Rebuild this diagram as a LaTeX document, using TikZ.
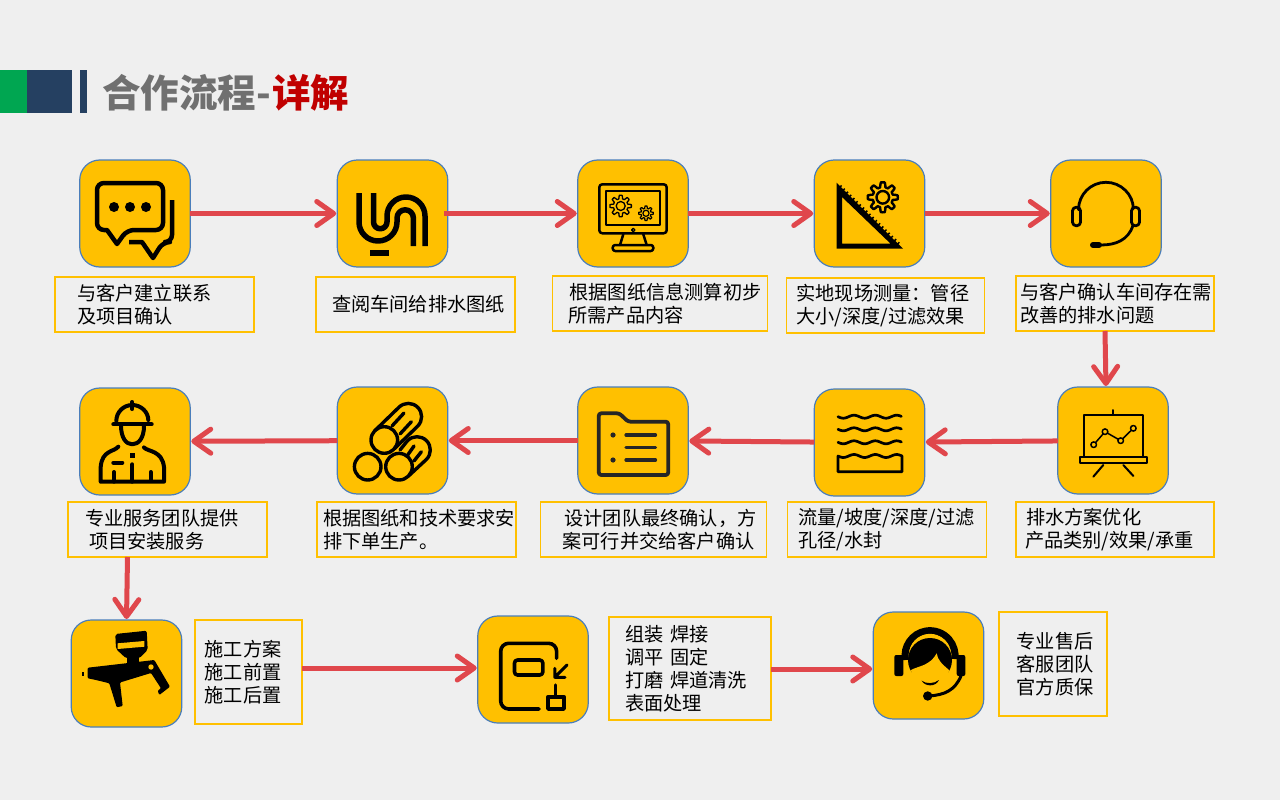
\documentclass[tikz,border=0pt]{standalone}
\usepackage{fontspec}
\setmainfont{Noto Sans CJK SC}
\usepackage{tikz}
\usetikzlibrary{
        arrows.meta,
        positioning
    }
\definecolor{pagegray}{HTML}{EFEFEF}
\definecolor{gold}{HTML}{FFC000}
\definecolor{bluerim}{HTML}{4A7EBB}
\definecolor{flowred}{HTML}{E0474C}
\definecolor{navy}{HTML}{254061}
\definecolor{leafgreen}{HTML}{00A651}
\definecolor{titlegray}{HTML}{707070}
\definecolor{titlered}{HTML}{C00000}
\tikzset{>={Straight Barb[round,length=17pt,width=24pt]},shorten >=1pt}
\tikzset{
    iconbox/.style={draw=bluerim,fill=gold,line width=1.2pt,rounded corners=20pt,
        minimum width=110.5pt,minimum height=107pt,outer sep=0pt,inner sep=0pt},
    textbox/.style={draw=gold,line width=1.6pt,text width=#1,minimum height=55pt,
        inner sep=0pt,outer sep=0pt,align=left,font=\fontsize{19.2}{23}\selectfont},
    flow/.style={line width=5pt,color=flowred},
    glyph/.style={draw=black,line width=#1,line cap=round,line join=round},
    glyph/.default=3pt
}
\newcommand{\ind}[1]{\hspace*{#1pt}}
\newcommand{\gearglyph}[4]{
    \draw[glyph=#4,shift={(#1,#2)}] plot[domain=0:360,samples=97] (\x:{#3*(0.84+0.16*sign(cos(8*\x)))}) -- cycle;
    \draw[glyph=#4] (#1,#2) circle ({0.42*#3});
}
\newcommand{\waveglyph}[1]{
    \draw[glyph=2.7pt] plot[domain=0:1,samples=46,smooth] ({838+64*\x},{#1+1.5*sin(1080*\x)});
}

\begin{document}
\begin{tikzpicture}[x=1pt,y=-1pt]
                    \useasboundingbox (0,0) rectangle (1280,800);
                    \fill[pagegray] (0,0) rectangle (1280,800);
                    \fill[leafgreen] (0,70) rectangle (27,113);
                    \fill[navy] (27,70) rectangle (72,113);
                    \fill[navy] (80,70) rectangle (87,113);
                    \node[anchor=west,inner sep=0pt,text=titlegray,font=\fontsize{38.5}{40}\selectfont\bfseries] (title) at (102,93) {合作流程-\hspace{1.5pt}\textcolor{titlered}{详解}};

                    \node[iconbox] (s1) at (135,213.5) {};
                    \node[iconbox] (s2) [right=147pt of s1] {};
                    \node[iconbox] (s3) [right=130pt of s2] {};
                    \node[iconbox] (s4) [right=126pt of s3] {};
                    \node[iconbox] (s5) [right=126pt of s4] {};
                    \node[textbox=199pt] (t1) [below=10pt of s1,xshift=19.5pt] {\ind{22}与客户建立联系\\\ind{22}及项目确认};
                    \node[textbox=199pt] (t2) [below=10pt of s2,xshift=23pt] {\ind{16}查阅车间给排水图纸};
                    \node[textbox=215pt] (t3) [below=9pt of s3,xshift=27pt] {\ind{17}根据图纸信息测算初步\\\ind{16}所需产品内容};
                    \node[textbox=198pt] (t4) [below=11pt of s4,xshift=16pt] {\ind{10}实地现场测量：管径\\\ind{10}大小/深度/过滤效果};
                    \node[textbox=198pt] (t5) [below=9pt of s5,xshift=9pt] {\ind{4}与客户确认车间存在需\\\ind{4}改善的排水问题};

                    \node[iconbox] (s6) [below=56pt of t5,xshift=-2pt] {};
                    \node[iconbox] (s7) [left=133pt of s6,yshift=-2pt] {};
                    \node[iconbox] (s8) [left=126pt of s7,yshift=2pt] {};
                    \node[iconbox] (s9) [left=130pt of s8] {};
                    \node[iconbox] (s10) [left=147pt of s9,yshift=-1pt] {};
                    \node[textbox=198pt] (t6) [below=8pt of s6,xshift=2pt] {\ind{10}排水方案优化\\\ind{9}产品类别/效果/承重};
                    \node[textbox=199pt] (t7) [below=6pt of s7,xshift=17.5pt] {\ind{11}流量/坡度/深度/过滤\\\ind{11}孔径/水封};
                    \node[textbox=226pt] (t8) [below=8pt of s8,xshift=20.5pt] {\ind{24}设计团队最终确认，方\\\ind{22}案可行并交给客户确认};
                    \node[textbox=199pt] (t9) [below=8pt of s9,xshift=24pt] {\ind{6}根据图纸和技术要求安\\\ind{6}排下单生产。};
                    \node[textbox=199pt] (t10) [below=7pt of s10,xshift=32.5pt] {\ind{17}专业服务团队提供\\\ind{21}项目安装服务};

                    \node[iconbox] (s11) [below=63pt of t10,xshift=-41pt] {};
                    \node[textbox=107pt,minimum height=104pt] (t11) [right=13pt of s11,yshift=1.5pt] {\ind{10}施工方案\\\ind{10}施工前置\\\ind{10}施工后置};
                    \node[iconbox] (s12) [right=176pt of t11,yshift=2.5pt] {};
                    \node[textbox=162pt,minimum height=103pt] (t12) [right=21pt of s12,yshift=1pt] {\ind{16}组装~焊接\\\ind{16}调平~固定\\\ind{16}打磨~焊道清洗\\\ind{16}表面处理};
                    \node[iconbox] (s13) [right=102pt of t12,yshift=3pt] {};
                    \node[textbox=108pt,minimum height=104pt] (t13) [right=15pt of s13,yshift=1.5pt] {\ind{18}专业售后\\\ind{18}客服团队\\\ind{18}官方质保};

                    \path[->,flow]
                        (s1)  edge (s2)
                        ([xshift=-4pt]s2.east)  edge (s3)
                        (s3)  edge (s4)
                        (s4)  edge (s5)
                        ([xshift=-10pt]t5.south)  edge ([xshift=-7pt]s6.north)
                        (s6)  edge (s7)
                        (s7)  edge (s8)
                        (s8)  edge (s9)
                        (s9)  edge (s10)
                        ([xshift=-40pt]t10.south)  edge (s11.north)
                        ([yshift=4pt]t11.east)  edge ([yshift=1.5pt]s12.west)
                        ([yshift=-0.5pt]t12.east)  edge ([yshift=-3.5pt]s13.west)
                    ;

                    % s1 chat
                    \draw[glyph=4.5pt] (117,244) -- (107,230) [rounded corners=7pt] -- (97,230) -- (97,183) -- (163,183) -- (163,230) -- (127,230) [sharp corners] -- cycle;
                    \draw[glyph=4.5pt,line cap=butt] (172,200) [rounded corners=7pt] -- (172,242) -- (163,242) [sharp corners] -- (153,258) -- (142,242) -- (128,242);
                    \foreach \dotx in {114,130,146}
                        \fill (\dotx,207) circle (5);

                    % s2 drain
                    \draw[glyph=5.5pt,line cap=butt] (359,193) -- (359,222) arc[start angle=180,end angle=360,radius=19pt] -- (397,218) arc[start angle=180,end angle=0,radius=8.2pt] -- (413.4,247);
                    \draw[glyph=5.5pt,line cap=butt] (373.5,193) -- (373.5,222) arc[start angle=180,end angle=360,radius=6.75pt] -- (387,216) arc[start angle=180,end angle=0,radius=19pt] -- (425,247);
                    \fill (370,249.5) rectangle (389,255.5);

                    % s3 monitor
                    \draw[glyph=2.5pt,rounded corners=3pt] (599.3,184.3) rectangle (666.7,233.3);
                    \draw[glyph=1.7pt] (605.7,190.7) rectangle (660,225);
                    \draw[glyph=1.3pt] (633.3,230) circle (1.7);
                    \draw[glyph=2.5pt] (623.3,234.3) -- (620,245) (643.3,234.3) -- (646.7,245);
                    \draw[glyph=2.5pt,rounded corners=2.5pt] (612.7,245) rectangle (653.3,251);
                    \gearglyph{620.7}{206}{10.7}{1.3pt}
                    \gearglyph{646}{213.3}{7.3}{1.2pt}

                    % s4 set square
                    \fill[even odd rule] (836.5,182.7) -- (836.5,248.7) -- (903,248.7) -- cycle (842,197) -- (842,243.5) -- (890.4,243.5) -- cycle;
                    \draw[line width=3pt,dash pattern=on 1.5pt off 3pt] (840,186) -- (901,246);
                    \gearglyph{882.8}{197.3}{15}{2.4pt}

                    % s5 headset
                    \draw[glyph=2.8pt] (1078.5,209.7) arc[start angle=180,end angle=0,radius=27.4pt];
                    \draw[glyph=2.8pt,rounded corners=3.5pt] (1072.5,207.3) rectangle (1080.5,225.7);
                    \draw[glyph=2.8pt,rounded corners=3.5pt] (1131.5,207.3) rectangle (1139.5,225.7);
                    \draw[glyph=2.8pt] (1133,225.7) .. controls (1128,240) and (1116,245) .. (1100,245);
                    \draw[glyph=6pt] (1093,245) -- (1100,245);

                    % s6 board
                    \draw[glyph=2pt] (1113.3,410) -- (1113.3,415);
                    \draw[glyph=2pt] (1084.3,415) rectangle (1142.7,456.7);
                    \draw[glyph=2pt] (1080,456.7) rectangle (1146.7,462.7);
                    \draw[glyph=2pt] (1103.3,465) -- (1093.3,476.7) (1123.3,465) -- (1134,476.7);
                    \draw[glyph=1.5pt] (1093.7,444.7) -- (1105,431.7) -- (1120.7,440.7) -- (1133.3,428.3);
                    \foreach \ptx/\pty in {1093.7/444.7,1105/431.7,1120.7/440.7,1133.3/428.3}
                        \draw[glyph=1.5pt,fill=gold] (\ptx,\pty) circle (2.8);

                    % s7 water
                    \waveglyph{416.7}
                    \waveglyph{429.3}
                    \waveglyph{442.3}
                    \draw[glyph=2.7pt] plot[domain=0:1,samples=46,smooth] ({838+64*\x},{456+1.5*sin(1080*\x)}) -- (902,471.7) -- (838,471.7) -- cycle;

                    % s8 folder
                    \draw[glyph=3.8pt,draw=black!85,rounded corners=2.5pt] (598.8,413.3) -- (619.2,413.3) -- (628.2,421.7) -- (668.2,421.7) -- (668.2,475) -- (598.8,475) -- cycle;
                    \foreach \rowy in {435,447.7,460}
                        \draw[glyph=3.2pt,draw=black!85] (626,\rowy) -- (656.5,\rowy);
                    \fill[black!85] (613,435) circle (2.6) (613,460) circle (2.6);

                    % s9 logs
                    \draw[glyph=3.4pt] (384.3,440) circle (13.3) (367.7,466.7) circle (13.3) (399,466.7) circle (13.3);
                    \draw[glyph=3.4pt] (374.9,430.6) -- (398.9,407.3) arc[start angle=135,end angle=-45,radius=13.3pt] -- (393.7,449.4);
                    \draw[glyph=3.4pt] (392,426) -- (404,413) (400,434) -- (412,421);
                    \draw[glyph=3.4pt] (400,450) -- (407.6,440.6) arc[start angle=135,end angle=-45,radius=13.3pt] -- (408.4,476.1);
                    \draw[glyph=3.4pt] (407,456) -- (414,446) (414,461) -- (422,451);

                    % s10 worker
                    \draw[glyph=4pt] (116.3,421) arc[start angle=180,end angle=0,radius=16pt];
                    \draw[glyph=4pt] (113.3,424.3) -- (151.7,424.3) (132.3,402) -- (132.3,410);
                    \draw[glyph=4pt] (121,425) .. controls (121,438) and (126,444.3) .. (132.3,444.3) .. controls (138.6,444.3) and (144,438) .. (144,425);
                    \draw[glyph=4pt] (118.3,446.7) .. controls (114,452) and (102,450) .. (100.7,467) -- (100.7,481.7) -- (164,481.7) -- (164,467) .. controls (162,450) and (148,452) .. (143.3,446.7);
                    \draw[glyph=4pt] (113.3,462.7) -- (122.3,462.7) (132.3,464.3) -- (132.3,481.7) (114,472) -- (114,481.7) (150.7,472) -- (150.7,481.7);
                    \fill (130,453) rectangle (134.6,457.6);

                    % s11 spray gun
                    \fill[rounded corners=2pt] (115.3,634) -- (146.7,630.7) -- (147.7,650) -- (139.3,658.3) -- (126,658.3) -- (116,649) -- cycle;
                    \fill[gold] (117.7,643.3) -- (144.3,641) -- (144.3,646.7) -- (117.7,649) -- cycle;
                    \fill (127,655) rectangle (139,666);
                    \fill[rounded corners=1pt] (87.7,667.7) -- (154.3,660) -- (170,686.7) -- (159.3,695) -- (157.7,690.7) -- (161,688.3) -- (151,673) -- (120,682.5) -- (122.7,706) -- (116.7,707.3) -- (109.3,683.3) -- (96,680) -- (87.7,678.3) -- cycle;
                    \fill (82,671.7) rectangle (84.3,676);
                    \fill[gold] (151,667) circle (2.7);

                    % s12 panel
                    \draw[glyph=3.6pt,rounded corners=8pt] (556.6,658.3) -- (556.6,643.3) -- (500.7,643.3) -- (500.7,709) -- (540,709);
                    \draw[glyph=3.6pt,rounded corners=3pt] (514.5,660) rectangle (542.8,675);
                    \draw[glyph=3pt] (567,665) -- (554.8,677.3) (554.8,668.3) -- (554.8,677.3) -- (566,677.3);
                    \draw[glyph=3.2pt] (555.8,685) -- (555.8,696.7);
                    \draw[glyph=3.6pt] (548,696.7) rectangle (564,709);

                    % s13 service
                    \draw[line width=7pt] (905.4,660) arc[start angle=190,end angle=-10,radius=25pt];
                    \draw[gold,line width=2pt] (911.2,648) arc[start angle=160,end angle=20,radius=20pt];
                    \fill (930,660) circle (22);
                    \fill[rounded corners=2pt] (894.3,655) rectangle (903.3,676);
                    \fill[rounded corners=2pt] (956.7,655) rectangle (965.3,676);
                    \fill[gold] (911,670) .. controls (918,666) and (930,666) .. (936.7,653.3) .. controls (937.5,660) and (942,664) .. (949,670) .. controls (948,682) and (940,688) .. (930,688.5) .. controls (920,688) and (912,682) .. (911,670) -- cycle;
                    \fill (921.7,680.7) .. controls (926,684) and (934,684) .. (939,680) .. controls (936,687) and (925,687) .. (921.7,680.7) -- cycle;
                    \draw[line width=3pt,line cap=round] (961,676) .. controls (955,690) and (945,695) .. (928,696);
                    \fill (927.7,696) circle (4.7);
                \end{tikzpicture}
\end{document}
